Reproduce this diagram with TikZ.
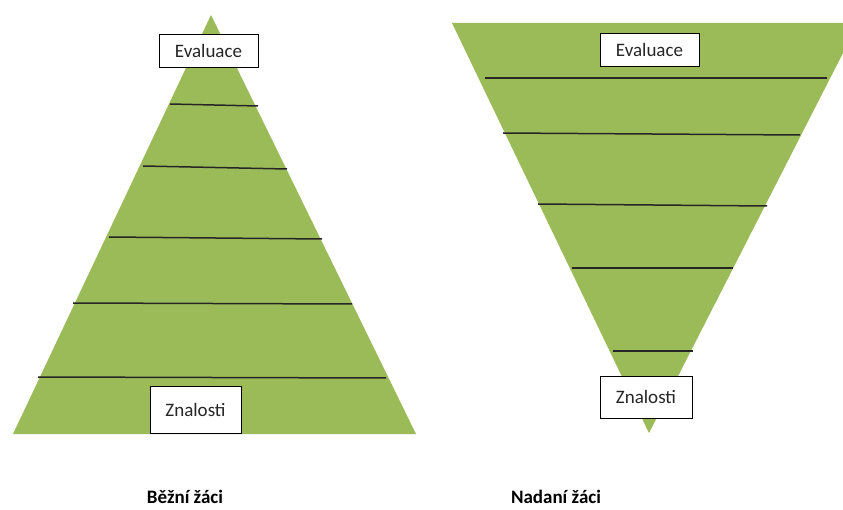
\documentclass[tikz,border=0pt]{standalone}
\usepackage{fontspec}
\setmainfont{Carlito}
\usetikzlibrary{positioning}
\definecolor{olive}{HTML}{9BBB59}
\tikzset{
    pyramid/.style={fill=olive, draw=none},
    tier/.style={line width=1.5pt, black!85},
    levelbox/.style={draw, fill=white, line width=0.9pt, inner sep=0pt, font=\fontsize{19}{22}\selectfont, text=black!85},
    caption/.style={font=\fontsize{19}{23}\selectfont\bfseries},
}
\begin{document}
\begin{tikzpicture}[x=1pt, y=-1pt]
    \useasboundingbox (0,0) rectangle (843,510);

    % left pyramid
    \coordinate (ltop) at (211,15);
    \fill[pyramid] (ltop) -- (416,434) -- (13,434) -- cycle;
    \draw[tier] (170,104) -- (258,106);
    \draw[tier] (143,166) -- (287,169);
    \draw[tier] (109,237) -- (322,239);
    \draw[tier] (73,303) -- (352,304);
    \draw[tier] (38,377) -- (386,378);
    \node[levelbox, minimum width=99pt, minimum height=33pt] (leval) at (208.5,50.5) {Evaluace};
    \node[levelbox, minimum width=91pt, minimum height=47pt] (lznal) at (195.5,409.5) {Znalosti};
    \node[caption] (lcap) at (185,497) {Běžní žáci};

    % right pyramid (upside down)
    \coordinate (rtip) at (649,433);
    \fill[pyramid] (452,23) -- (843,23) -- (843,53) -- (rtip) -- cycle;
    \draw[tier] (485,78) -- (827,78);
    \draw[tier] (503,133) -- (800,135);
    \draw[tier] (538,204) -- (767,206);
    \draw[tier] (572,268) -- (733,268);
    \draw[tier] (613,351) -- (693,351);
    \node[levelbox, minimum width=99pt, minimum height=33pt] (reval) at (649.5,49.5) {Evaluace};
    \node[levelbox, minimum width=92pt, minimum height=42pt] (rznal) at (646,397) {Znalosti};
    \node[caption] (rcap) at (556,497) {Nadaní žáci};
\end{tikzpicture}
\end{document}
